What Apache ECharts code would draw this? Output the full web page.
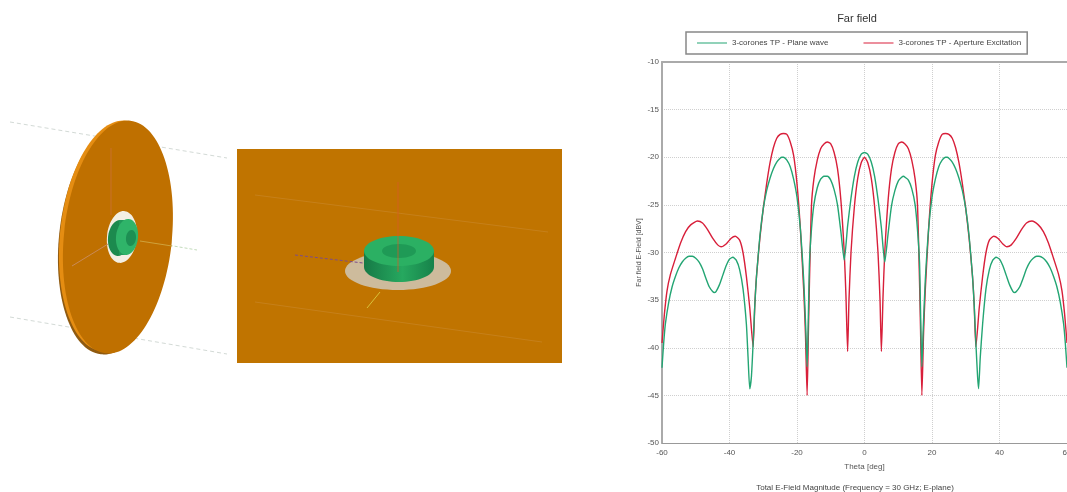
<!DOCTYPE html>
<html>
<head>
<meta charset="utf-8">
<style>html,body{margin:0;padding:0;background:#fff}#c{width:1067px;height:492px;filter:blur(0.45px)}</style>
<script src="https://cdn.jsdelivr.net/npm/echarts@6/dist/echarts.min.js"></script>
</head>
<body>
<div id="c"></div>
<script>
const chartTitle = 'Far field';
const caption = 'Total E-Field Magnitude (Frequency = 30 GHz; E-plane)';
const xAxisName = 'Theta [deg]';
const yAxisName = 'Far field E-Field [dBV]';
const planeName = '3-corones TP - Plane wave';
const apertureName = '3-corones TP - Aperture Excitation';

const planeTheta = [-60,-59.5,-59,-58,-57,-56,-55,-54,-53,-52,-51,-50,-49,-48,-47,-46,-45,-44.5,-44,-43,-42,-41,-40,-39,-38,-37,-36,-35,-34.5,-34,-33.5,-33,-32.5,-32,-31,-30,-29,-28,-27,-26,-25,-24.5,-24,-23,-22,-21,-20,-19,-18,-17.4,-17,-16.6,-16.3,-15.7,-15,-14,-13,-12,-11,-10,-9,-8,-7,-6,-5,-4,-3,-2,-1,0,
  1,2,3,4,5,6,7,8,9,10,11,11.6,12,13,14,15,15.7,16.3,16.6,17,17.4,18,19,20,21,22,23,24,24.5,25,26,27,28,29,30,31,32,32.5,33,33.5,33.8,34.3,35,36,37,38,39,40,41,42,43,44,44.5,45,46,47,48,49,50,51,51.7,53,54,55,56,57,58,59,59.5,60];
const planeValues = [-42.1,-39.5,-37.5,-35.2,-33.6,-32.5,-31.6,-31,-30.6,-30.4,-30.4,-30.6,-31,-31.7,-32.7,-33.6,-34.1,-34.2,-34.1,-33.4,-32.4,-31.4,-30.7,-30.5,-30.8,-31.8,-33.8,-37.5,-41,-44.3,-43,-39.5,-35.5,-32.5,-28.3,-25.4,-23.5,-22.2,-21.2,-20.5,-20.1,-20,-20,-20.3,-21,-22.3,-24.2,-27.5,-33,-38,-42,-36,-31,-27.5,-25,-23.2,-22.3,-22,-22,-22.4,-23.4,-25,-27.8,-30.8,-27.2,-24.3,-22,-20.5,-19.7,-19.5,
  -19.7,-20.5,-22,-24.4,-27.4,-31,-28,-25.1,-23.5,-22.5,-22.1,-22,-22.1,-22.4,-23.3,-25,-27.6,-31,-36,-42,-38,-33,-27.5,-24.2,-22.3,-21,-20.3,-20,-20,-20.1,-20.5,-21.2,-22.2,-23.5,-25.4,-28.3,-32.5,-35.5,-39.5,-43,-44.3,-41,-37.5,-33.8,-31.8,-30.8,-30.5,-30.7,-31.4,-32.4,-33.4,-34.1,-34.2,-34.1,-33.6,-32.7,-31.7,-31,-30.6,-30.4,-30.4,-30.6,-31,-31.6,-32.5,-33.6,-35.2,-37.5,-39.5,-42.1];

const apertureTheta = [-60,-59.3,-58.5,-57.5,-56,-54.5,-53,-51.5,-49.5,-48,-46.5,-45,-43.5,-42.5,-41,-39.5,-38.3,-37,-36,-35,-34,-33,-32.5,-32,-31,-30,-29,-28,-27,-26,-25,-24,-23,-22,-21,-20,-19,-18,-17.5,-17,-16.6,-16.3,-15.7,-15,-14,-13,-12,-11,-10,-9,-8,-7,-6,-5.5,-5,-4.6,-4,-3,-2,-1,0,
  1,2,3,4,4.6,5,5.5,6,7,8,9,10,11,12,13,14,15,15.7,16.3,16.6,17,17.5,18,19,20,21,22,23,24,25,26,27,28,29,30,31,32,32.5,33,34,35,36,37,38.3,39.5,41,42.2,43.5,45,46.5,48,49.6,51.5,53,54.5,56,57.5,58.5,59.3,60];
const apertureValues = [-39.5,-36.5,-34,-32.3,-30.6,-29,-27.8,-27.1,-26.7,-26.9,-27.6,-28.5,-29.2,-29.4,-29.1,-28.5,-28.3,-28.7,-30,-32.5,-35.8,-39.9,-35.5,-32.5,-28.5,-25.4,-22.8,-20.6,-19,-18,-17.6,-17.5,-17.6,-18.4,-19.8,-22.8,-27.5,-34,-38.5,-45,-38,-33,-25,-22.3,-20.3,-19.1,-18.6,-18.4,-18.6,-19.5,-21.2,-24.5,-30,-34.5,-40.4,-35,-30,-25.2,-22.2,-20.6,-20,
  -20.6,-22.2,-25.2,-30,-35,-40.4,-34.5,-30,-24.5,-21.2,-19.5,-18.6,-18.4,-18.6,-19.1,-20.3,-22.3,-25,-33,-38,-45,-38.5,-34,-27.5,-22.8,-19.8,-18.4,-17.6,-17.5,-17.6,-18,-19,-20.6,-22.8,-25.4,-28.5,-32.5,-35.5,-39.9,-35.8,-32.5,-30,-28.7,-28.3,-28.5,-29.1,-29.4,-29.2,-28.5,-27.6,-26.9,-26.7,-27.1,-27.8,-29,-30.6,-32.3,-34,-36.5,-39.5];

const pair = (xs, ys) => xs.map((x, i) => [x, ys[i]]);
const orange = '#bf7000';
const lineStyleFaint = {stroke:'#d3dad6', lineWidth:1, lineDash:[4,3]};
const line = (x1,y1,x2,y2,style,z) => ({type:'line', shape:{x1,y1,x2,y2}, style, z:z||1, silent:true});
const ell = (x,y,rx,ry,fill,rot,z) => ({type:'ellipse', x, y, rotation:rot||0, shape:{cx:0,cy:0,rx,ry}, style:{fill}, z, silent:true});
const sideGreen = new echarts.graphic.LinearGradient(0,0,1,0,[{offset:0,color:'#167a46'},{offset:.55,color:'#26a85f'},{offset:1,color:'#17824a'}]);

const tilt = -0.105;
const graphics = [
  // left view: disk on its axis lines
  line(10,122,227,158,lineStyleFaint), line(10,317,227,354,lineStyleFaint),
  line(150,242,197,250,{stroke:'#c3dcbc',lineWidth:1,lineDash:[3,2]}),
  ell(113,239,54,116,'#8f5a10',tilt,2),
  ell(114,236,54,116,'#e58d12',tilt,3),
  ell(118,237,54,117,orange,tilt,4),
  line(140,241,172,246,{stroke:'#cfa23c',lineWidth:1},6),
  line(72,266,108,244,{stroke:'#c98a58',lineWidth:1},6),
  line(111,148,111,215,{stroke:'#c8702a',lineWidth:1},6),
  ell(122,237,15,26,'#f3efe4',tilt,5),
  ell(119,238,11,18,'#1c8a4e',tilt,6),
  {type:'rect', shape:{x:119,y:220,width:8,height:35}, style:{fill:'#22985a'}, z:6, silent:true},
  ell(127,237,11,18,'#2fb469',tilt,7),
  ell(131,238,5,8,'#1d8f53',tilt,8),
  // middle view: close-up on an orange panel
  {type:'rect', shape:{x:237,y:149,width:325,height:214}, style:{fill:'#c07400'}, z:1, silent:true},
  line(255,195,548,232,{stroke:'#c6801a',lineWidth:1},2),
  line(255,302,542,342,{stroke:'#c6801a',lineWidth:1},2),
  ell(398,271,53,19,'#cdbb9c',0,3),
  line(295,255,363,263,{stroke:'#7d4c8a',lineWidth:1,lineDash:[3,2]},4),
  line(380,292,367,308,{stroke:'#d9c23a',lineWidth:1},4),
  {type:'rect', shape:{x:364,y:251,width:70,height:16}, style:{fill:sideGreen}, z:5, silent:true},
  ell(399,267,35,15,sideGreen,0,5),
  ell(399,251,35,15,'#2bb063',0,6),
  ell(399,251,17,7,'#1f9a56',0,7),
  line(398,182,398,272,{stroke:'#d9582a',lineWidth:1,opacity:.7},8)
];

const tickLabel = {color:'#555', fontSize:8, fontFamily:'Liberation Sans'};
const gridLine = {show:true, lineStyle:{color:'#cfcfcf', type:'dotted', width:1}};
const chart = echarts.init(document.getElementById('c'), null, {renderer:'canvas'});
chart.setOption({
  animation:false,
  backgroundColor:'#fff',
  title:[
    {text:chartTitle, left:852, top:8, textAlign:'center', textStyle:{fontSize:11, fontWeight:'normal', color:'#333', fontFamily:'Liberation Sans'}},
    {text:caption, left:850, top:479, textAlign:'center', textStyle:{fontSize:8, fontWeight:'normal', color:'#444', fontFamily:'Liberation Sans'}}
  ],
  legend:{
    left:686, top:32, orient:'horizontal',
    padding:[7,6,7,11], itemGap:35, itemWidth:30, itemHeight:8,
    borderColor:'#888', borderWidth:1.5, backgroundColor:'#fff',
    icon:'path://M0 0H30V1H0Z',
    textStyle:{fontSize:8, color:'#444', fontFamily:'Liberation Sans'},
    data:[planeName, apertureName]
  },
  grid:{left:662, right:0, top:62, bottom:49, outerBoundsMode:'none'},
  xAxis:[{
    type:'value', min:-60, max:60, interval:20,
    name:xAxisName, nameLocation:'middle', nameGap:20,
    nameTextStyle:{fontSize:8, color:'#555', fontFamily:'Liberation Sans'},
    axisLine:{show:true, onZero:false, lineStyle:{color:'#999', width:1}},
    axisTick:{show:false},
    axisLabel:{...tickLabel, margin:6, hideOverlap:false, showMinLabel:true, showMaxLabel:true},
    splitLine:gridLine
  },{
    type:'value', min:-60, max:60, interval:20, position:'top',
    axisLine:{show:true, onZero:false, lineStyle:{color:'#aaa', width:2}},
    axisTick:{show:false}, axisLabel:{show:false}, splitLine:{show:false}
  }],
  yAxis:{
    type:'value', min:-50, max:-10, interval:5,
    name:yAxisName, nameLocation:'middle', nameGap:19, nameRotate:90,
    nameTextStyle:{fontSize:7, color:'#555', fontFamily:'Liberation Sans'},
    axisLine:{show:true, onZero:false, lineStyle:{color:'#aaa', width:2}},
    axisTick:{show:false},
    axisLabel:{...tickLabel, margin:3},
    splitLine:gridLine
  },
  series:[
    {name:planeName, type:'line', data:pair(planeTheta, planeValues), showSymbol:false, smooth:0.2, z:4, clip:true, lineStyle:{color:'#23a573', width:1.4}, itemStyle:{color:'#23a573'}},
    {name:apertureName, type:'line', data:pair(apertureTheta, apertureValues), showSymbol:false, smooth:0.2, z:3, clip:true, lineStyle:{color:'#d81f3a', width:1.4}, itemStyle:{color:'#d81f3a'}}
  ],
  graphic:graphics
});
</script>
</body>
</html>
